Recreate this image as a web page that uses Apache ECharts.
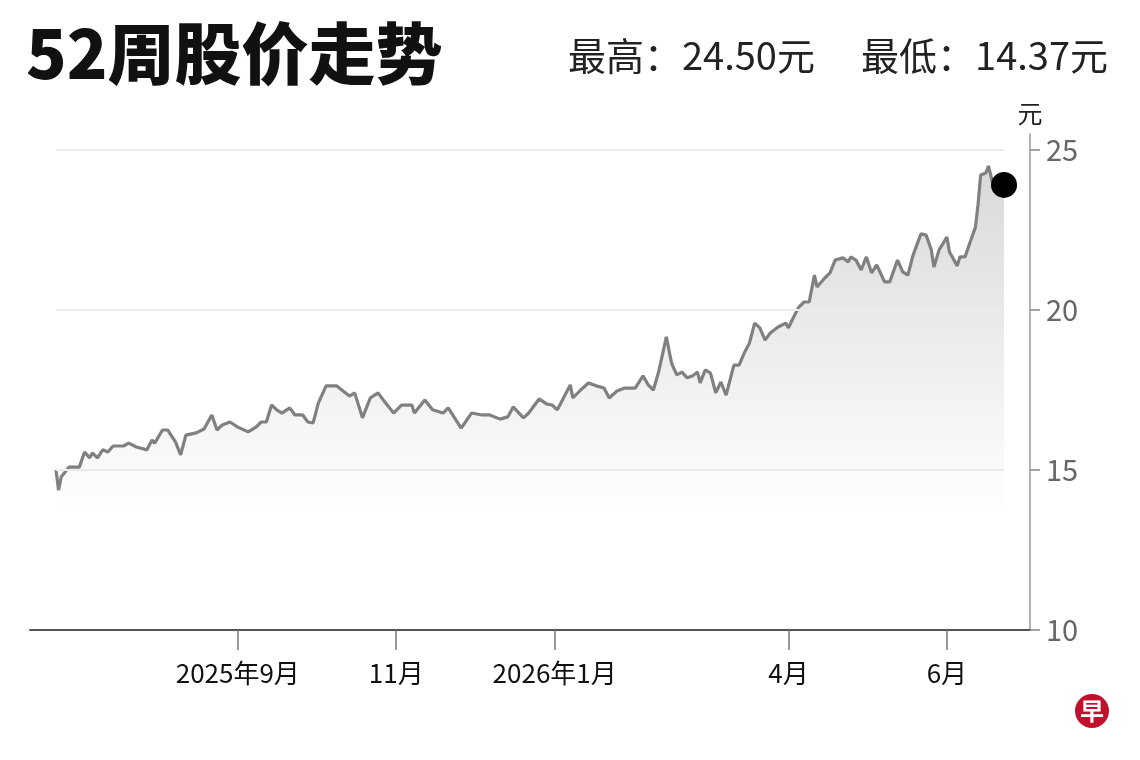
<!DOCTYPE html>
<html>
<head>
<meta charset="utf-8">
<script src="https://cdn.jsdelivr.net/npm/echarts@6.0.0/dist/echarts.min.js"></script>
<style>
  html, body { margin: 0; padding: 0; background: #fff; }
  #chart { width: 1140px; height: 760px; }
</style>
</head>
<body>
<div id="chart"></div>
<script>
// 52周股价 readings (date, closing price in 元)
var dates = [
  '2025-06-23','2025-06-24','2025-06-25','2025-06-28','2025-07-02','2025-07-04','2025-07-06','2025-07-07',
  '2025-07-09','2025-07-11','2025-07-13','2025-07-15','2025-07-19','2025-07-21','2025-07-24','2025-07-28',
  '2025-07-30','2025-07-31','2025-08-03','2025-08-05','2025-08-08','2025-08-10','2025-08-12','2025-08-16',
  '2025-08-19','2025-08-22','2025-08-24','2025-08-26','2025-08-29','2025-09-01','2025-09-05','2025-09-08',
  '2025-09-10','2025-09-12','2025-09-14','2025-09-16','2025-09-18','2025-09-21','2025-09-23','2025-09-26',
  '2025-09-28','2025-09-30','2025-10-02','2025-10-05','2025-10-09','2025-10-12','2025-10-14','2025-10-16',
  '2025-10-19','2025-10-22','2025-10-25','2025-10-27','2025-10-31','2025-11-03','2025-11-07','2025-11-08',
  '2025-11-12','2025-11-15','2025-11-19','2025-11-21','2025-11-26','2025-11-30','2025-12-04','2025-12-07',
  '2025-12-11','2025-12-14','2025-12-16','2025-12-20','2025-12-22','2025-12-26','2025-12-29','2025-12-31',
  '2026-01-02','2026-01-03','2026-01-07','2026-01-08','2026-01-11','2026-01-14','2026-01-17','2026-01-20',
  '2026-01-22','2026-01-25','2026-01-28','2026-02-01','2026-02-04','2026-02-06','2026-02-08','2026-02-10',
  '2026-02-13','2026-02-15','2026-02-17','2026-02-19','2026-02-21','2026-02-23','2026-02-25','2026-02-26',
  '2026-02-28','2026-03-02','2026-03-04','2026-03-06','2026-03-08','2026-03-11','2026-03-13','2026-03-15',
  '2026-03-17','2026-03-19','2026-03-21','2026-03-23','2026-03-25','2026-03-28','2026-03-31','2026-04-01',
  '2026-04-03','2026-04-05','2026-04-07','2026-04-09','2026-04-11','2026-04-12','2026-04-15','2026-04-17',
  '2026-04-19','2026-04-22','2026-04-24','2026-04-25','2026-04-27','2026-04-29','2026-05-01','2026-05-03',
  '2026-05-05','2026-05-08','2026-05-10','2026-05-13','2026-05-15','2026-05-17','2026-05-19','2026-05-22',
  '2026-05-24','2026-05-26','2026-05-27','2026-05-29','2026-06-01','2026-06-02','2026-06-05','2026-06-06',
  '2026-06-08','2026-06-10','2026-06-12','2026-06-13','2026-06-14','2026-06-16','2026-06-17','2026-06-19',
  '2026-06-23'
];
var prices = [
  15.00,14.37,14.78,15.09,15.09,15.56,15.38,15.53,
  15.38,15.63,15.56,15.75,15.75,15.84,15.72,15.63,
  15.94,15.84,16.25,16.25,15.88,15.47,16.09,16.16,
  16.28,16.72,16.25,16.41,16.50,16.34,16.19,16.34,
  16.50,16.50,17.03,16.88,16.78,16.94,16.72,16.72,
  16.50,16.47,17.09,17.63,17.63,17.44,17.31,17.41,
  16.63,17.25,17.41,17.19,16.78,17.03,17.03,16.78,
  17.19,16.88,16.78,16.94,16.31,16.78,16.72,16.72,
  16.59,16.66,16.97,16.63,16.78,17.22,17.06,17.03,
  16.88,17.03,17.66,17.25,17.50,17.72,17.63,17.56,
  17.25,17.47,17.56,17.56,17.94,17.66,17.50,18.06,
  19.16,18.34,17.97,18.06,17.88,17.94,18.06,17.72,
  18.13,18.03,17.41,17.75,17.34,18.28,18.28,18.66,
  18.97,19.59,19.44,19.06,19.28,19.47,19.59,19.44,
  19.78,20.09,20.25,20.25,21.09,20.72,21.00,21.16,
  21.56,21.63,21.50,21.66,21.56,21.25,21.66,21.16,
  21.41,20.88,20.88,21.56,21.19,21.09,21.72,22.38,
  22.34,21.88,21.34,21.88,22.28,21.81,21.38,21.66,
  21.66,22.13,22.59,23.30,24.22,24.28,24.50,23.84,
  23.91
];

var xTickDates = ['2025-09-01', '2025-11-01', '2026-01-01', '2026-04-01', '2026-06-01'];
var xTickLabels = ['2025年9月', '11月', '2026年1月', '4月', '6月'];
var yTicks = [10, 15, 20, 25];
var gridValues = [15, 20, 25];

var highText = '最高：24.50元';
var lowText = '最低：14.37元';

function toTime(s) {
  var p = s.split('-');
  return Date.UTC(+p[0], +p[1] - 1, +p[2]);
}

var xTickTimes = xTickDates.map(toTime);
var lineData = dates.map(function (d, i) { return [toTime(d), prices[i]]; });
var last = lineData[lineData.length - 1];

// light gridlines only across the data range
var gridLines = gridValues.map(function (v) {
  return [{ coord: [lineData[0][0], v] }, { coord: [last[0], v] }];
});

var chart = echarts.init(document.getElementById('chart'));

var option = {
  backgroundColor: '#fff',
  animation: false,
  textStyle: { fontFamily: '"Noto Sans CJK SC", sans-serif' },
  grid: { left: 30, right: 110, top: 134, bottom: 130, containLabel: false },
  xAxis: {
    type: 'value',
    min: toTime('2025-06-13'),
    max: toTime('2026-07-03'),
    z: 10,
    axisLine: { show: true, lineStyle: { color: '#555', width: 2 } },
    axisTick: { show: true, length: 20, customValues: xTickTimes, lineStyle: { color: '#777', width: 1.5 } },
    axisLabel: {
      customValues: xTickTimes,
      margin: 30,
      color: '#111',
      fontSize: 26,
      formatter: function (val) {
        var i = xTickTimes.indexOf(val);
        return i >= 0 ? xTickLabels[i] : '';
      }
    },
    splitLine: { show: false }
  },
  yAxis: {
    type: 'value',
    position: 'right',
    min: 10,
    max: 25.5,
    z: 10,
    name: '元',
    nameLocation: 'end',
    nameGap: 8,
    nameTextStyle: { color: '#222', fontSize: 25, align: 'center' },
    axisLine: { show: true, lineStyle: { color: '#999', width: 1.5 } },
    axisTick: { show: true, inside: false, length: 10, customValues: yTicks, lineStyle: { color: '#888', width: 1.5 } },
    axisLabel: { customValues: yTicks, margin: 16, color: '#666', fontSize: 29 },
    splitLine: { show: false }
  },
  series: [
    {
      type: 'line',
      data: lineData,
      showSymbol: false,
      symbol: 'none',
      lineStyle: { color: '#808080', width: 3.2 },
      areaStyle: {
        color: new echarts.graphic.LinearGradient(0, 0, 0, 1, [
          { offset: 0, color: '#c9c9c9' },
          { offset: 0.75, color: '#ffffff' },
          { offset: 1, color: '#ffffff' }
        ])
      },
      markLine: {
        silent: true,
        symbol: 'none',
        label: { show: false },
        lineStyle: { color: '#ebebeb', width: 2, type: 'solid' },
        data: gridLines
      },
      z: 2
    },
    {
      type: 'scatter',
      data: [last],
      symbol: 'circle',
      symbolSize: 26,
      itemStyle: { color: '#000', opacity: 1 },
      z: 5
    }
  ],
  graphic: [
    {
      type: 'text',
      left: 26,
      top: 20,
      style: {
        text: '52周股价走势',
        fontSize: 67,
        fontWeight: 900,
        fontFamily: '"Noto Sans CJK SC", sans-serif',
        fill: '#111'
      }
    },
    {
      type: 'text',
      left: 568,
      top: 37,
      style: {
        text: highText,
        fontSize: 38,
        fontFamily: '"Noto Sans CJK SC", sans-serif',
        fill: '#222'
      }
    },
    {
      type: 'text',
      right: 32,
      top: 37,
      style: {
        text: lowText,
        fontSize: 38,
        fontFamily: '"Noto Sans CJK SC", sans-serif',
        fill: '#222'
      }
    },
    {
      type: 'circle',
      shape: { cx: 1092, cy: 711, r: 17 },
      style: { fill: '#c0102e' }
    },
    {
      type: 'text',
      x: 1092,
      y: 711,
      style: {
        text: '早',
        fontSize: 24,
        fontWeight: 'bold',
        fontFamily: '"Noto Sans CJK SC", sans-serif',
        fill: '#fff',
        align: 'center',
        verticalAlign: 'middle'
      }
    }
  ]
};

chart.setOption(option);
</script>
</body>
</html>
